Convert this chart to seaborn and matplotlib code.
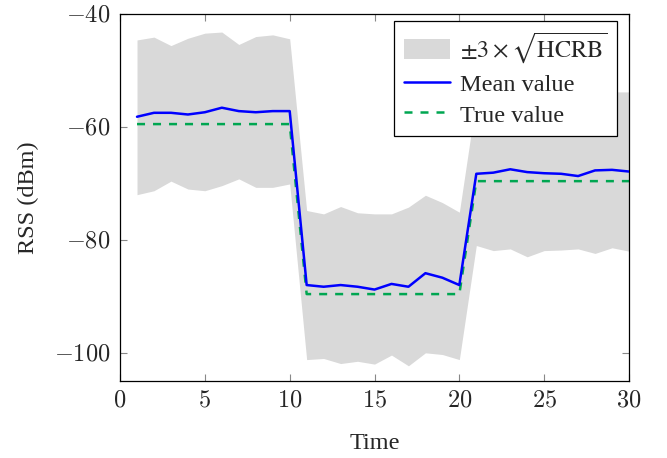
import numpy as np
import pandas as pd
import matplotlib
matplotlib.use("Agg")
import matplotlib.pyplot as plt
import seaborn as sns
from matplotlib.patches import Patch
from matplotlib.lines import Line2D

time = list(range(1, 31))
mean_value = [-58.2, -57.5, -57.5, -57.8, -57.4, -56.6, -57.2, -57.4, -57.2, -57.2,
              -88.0, -88.3, -88.0, -88.3, -88.8, -87.8, -88.3, -85.9, -86.7, -88.0,
              -68.3, -68.1, -67.5, -68.0, -68.2, -68.3, -68.7, -67.7, -67.6, -67.9]
true_value = [-59.5] * 10 + [-89.6] * 10 + [-69.6] * 10
band_upper = [-44.6, -44.1, -45.6, -44.3, -43.4, -43.2, -45.4, -44.0, -43.7, -44.4,
              -74.8, -75.4, -74.1, -75.2, -75.4, -75.4, -74.2, -72.1, -73.4, -75.1,
              -55.0, -54.3, -53.4, -53.0, -54.5, -54.8, -55.8, -53.0, -53.8, -53.8]
band_lower = [-72.0, -71.3, -69.6, -71.0, -71.3, -70.4, -69.2, -70.7, -70.7, -70.1,
              -101.2, -101.0, -101.9, -101.5, -102.0, -100.4, -102.3, -100.0, -100.3, -101.2,
              -81.0, -81.9, -81.6, -83.0, -81.9, -81.8, -81.6, -82.4, -81.4, -82.0]
x_ticks = [0, 5, 10, 15, 20, 25, 30]
y_ticks = [-100, -80, -60, -40]

df = pd.DataFrame({"Time": time, "Mean": mean_value, "True": true_value,
                   "Upper": band_upper, "Lower": band_lower})

sns.set_style("white")
plt.rcParams["font.family"] = ["Liberation Serif", "DejaVu Serif"]

BLUE = "#0000ff"
GREEN = "#00a651"
GRAY = "#d9d9d9"
FS = 17.5

fig = plt.figure(figsize=(6.67, 4.58), dpi=100)
ax = fig.add_axes([0.18, 0.168, 0.763, 0.8015])

ax.fill_between(df["Time"], df["Lower"], df["Upper"], color=GRAY, linewidth=0, zorder=1)
sns.lineplot(data=df, x="Time", y="Mean", ax=ax, color=BLUE, linewidth=1.8, zorder=3)
sns.lineplot(data=df, x="Time", y="True", ax=ax, color=GREEN, linewidth=1.8,
             linestyle=(0, (3.2, 3.2)), zorder=2)

ax.set_xlim(0, 30)
ax.set_ylim(-105, -40)
ax.set_xticks(x_ticks)
ax.set_yticks(y_ticks)
ax.set_xticklabels([f"${t}$" for t in x_ticks], math_fontfamily="cm", fontsize=FS)
ax.set_yticklabels([f"${t}$" for t in y_ticks], math_fontfamily="cm", fontsize=FS)
ax.tick_params(direction="in", length=5, width=0.8, color="#888888",
               top=True, right=True, left=True, bottom=True, pad=7)
for s in ax.spines.values():
    s.set_color("#000000")
    s.set_linewidth(0.9)

ax.set_xlabel("Time", fontsize=FS, labelpad=15)
ax.set_ylabel("RSS (dBm)", fontsize=FS, labelpad=10.5)

handles = [Patch(facecolor=GRAY, edgecolor="none"),
           Line2D([], [], color=BLUE, linewidth=1.8),
           Line2D([], [], color=GREEN, linewidth=1.8, linestyle=(0, (3.2, 3.2)))]
labels = [r"$\pm3\times\sqrt{\mathrm{HCRB}}$", "Mean value", "True value"]
leg = ax.legend(handles, labels, loc="upper right", bbox_to_anchor=(0.977, 0.982),
                borderaxespad=0, fancybox=False, framealpha=1, edgecolor="black",
                handlelength=1.9, handleheight=0.9, handletextpad=0.4,
                labelspacing=0.3, borderpad=0.4,
                prop={"size": FS, "math_fontfamily": "stix"})
leg.get_frame().set_linewidth(0.9)

fig.savefig("out.png", dpi=100)
